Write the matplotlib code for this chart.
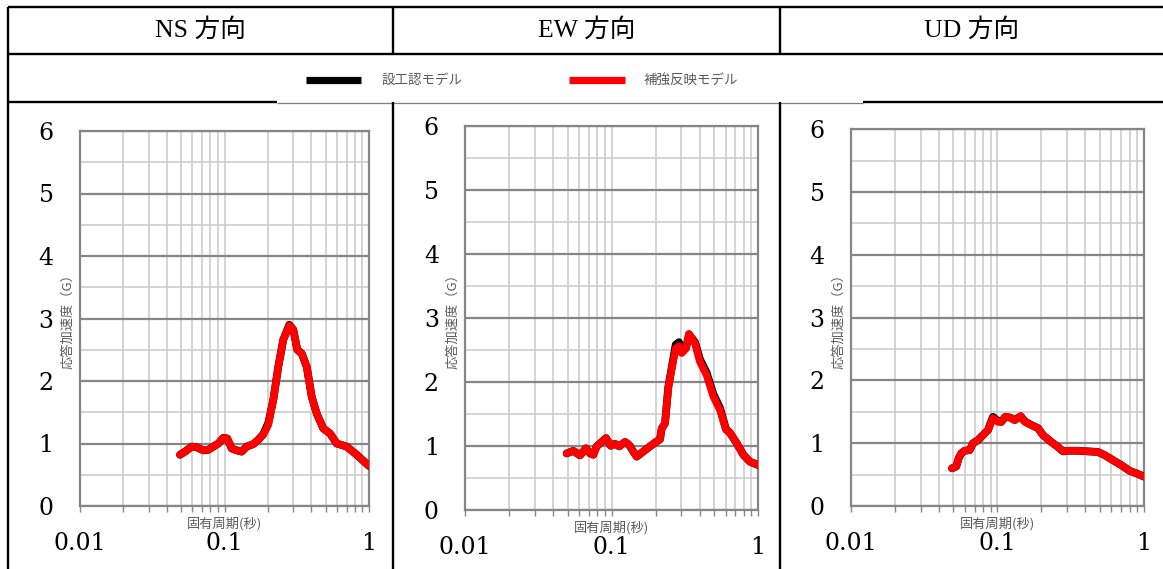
import matplotlib
matplotlib.use("Agg")
import matplotlib.pyplot as plt
from matplotlib.lines import Line2D
from matplotlib.ticker import LogLocator, MultipleLocator, NullFormatter, FixedLocator, FixedFormatter

# ---- response spectra: natural period (s) vs response acceleration (G) ----
ns_period = [0.0492, 0.0533, 0.0593, 0.0642, 0.0714, 0.0773, 0.0837, 0.0906, 0.0981,
             0.1045, 0.1122, 0.1215, 0.1315, 0.1424, 0.1582, 0.1714, 0.1856, 0.2010,
             0.2177, 0.2357, 0.2552, 0.2808, 0.2993, 0.3190, 0.3422, 0.3706, 0.4013,
             0.4345, 0.4828, 0.5373, 0.5977, 0.7010, 0.8223, 1.0]
ns_base = [0.82, 0.87, 0.95, 0.94, 0.89, 0.90, 0.95, 1.00, 1.09,
           1.08, 0.92, 0.89, 0.87, 0.95, 0.99, 1.06, 1.15, 1.33,
           1.70, 2.23, 2.66, 2.90, 2.82, 2.50, 2.44, 2.23, 1.75,
           1.48, 1.24, 1.16, 1.00, 0.95, 0.82, 0.64]
ns_reinforced = [0.82, 0.87, 0.95, 0.94, 0.89, 0.90, 0.95, 1.00, 1.09,
                 1.08, 0.92, 0.89, 0.87, 0.95, 0.99, 1.06, 1.14, 1.30,
                 1.70, 2.23, 2.66, 2.89, 2.82, 2.50, 2.44, 2.23, 1.75,
                 1.48, 1.24, 1.16, 1.00, 0.95, 0.82, 0.64]

ew_period = [0.0493, 0.0547, 0.0608, 0.0668, 0.0712, 0.0749, 0.0790, 0.0855, 0.0915,
             0.0985, 0.1054, 0.1128, 0.1234, 0.1320, 0.1405, 0.1483, 0.1645, 0.1828,
             0.2009, 0.2140, 0.2198, 0.2315, 0.2438, 0.2572, 0.2739, 0.2885, 0.3011,
             0.3221, 0.3377, 0.3711, 0.4015, 0.4462, 0.4950, 0.5500, 0.6044, 0.6437,
             0.7153, 0.7935, 0.8818, 1.0]
ew_base = [0.88, 0.92, 0.85, 0.96, 0.88, 0.86, 0.99, 1.06, 1.12,
           1.00, 1.03, 0.99, 1.06, 1.01, 0.91, 0.83, 0.91, 0.99,
           1.06, 1.10, 1.27, 1.35, 1.92, 2.22, 2.58, 2.62, 2.46,
           2.53, 2.74, 2.62, 2.35, 2.14, 1.81, 1.59, 1.26, 1.20,
           1.04, 0.86, 0.75, 0.70]
ew_reinforced = [0.88, 0.92, 0.85, 0.96, 0.88, 0.86, 0.99, 1.06, 1.12,
                 1.00, 1.03, 0.99, 1.06, 1.01, 0.91, 0.83, 0.91, 0.99,
                 1.06, 1.10, 1.27, 1.35, 1.90, 2.20, 2.52, 2.56, 2.45,
                 2.52, 2.75, 2.60, 2.31, 2.10, 1.77, 1.56, 1.25, 1.20,
                 1.04, 0.86, 0.75, 0.70]

ud_period = [0.0490, 0.0524, 0.0544, 0.0567, 0.0598, 0.0647, 0.0682, 0.0738, 0.0798,
             0.0863, 0.0909, 0.0934, 0.1010, 0.1064, 0.1133, 0.1215, 0.1314, 0.1444,
             0.1538, 0.1706, 0.1896, 0.2050, 0.2336, 0.2597, 0.2810, 0.3040, 0.3557,
             0.4164, 0.4872, 0.5416, 0.6167, 0.7031, 0.8020, 0.8901, 1.0]
ud_base = [0.60, 0.63, 0.76, 0.84, 0.88, 0.89, 1.00, 1.05, 1.13,
           1.21, 1.35, 1.42, 1.35, 1.34, 1.42, 1.41, 1.37, 1.43,
           1.35, 1.29, 1.24, 1.13, 1.02, 0.94, 0.87, 0.88, 0.88,
           0.87, 0.86, 0.81, 0.73, 0.65, 0.56, 0.52, 0.47]
ud_reinforced = [0.60, 0.63, 0.76, 0.84, 0.88, 0.89, 1.00, 1.05, 1.13,
                 1.21, 1.34, 1.40, 1.34, 1.34, 1.42, 1.41, 1.37, 1.43,
                 1.34, 1.29, 1.24, 1.13, 1.02, 0.94, 0.87, 0.88, 0.88,
                 0.87, 0.86, 0.81, 0.73, 0.65, 0.56, 0.52, 0.47]

directions = ["NS 方向", "EW 方向", "UD 方向"]
series_names = ["設工認モデル", "補強反映モデル"]
x_tick_values = [0.01, 0.1, 1]
x_tick_labels = ["0.01", "0.1", "1"]
y_tick_values = [0, 1, 2, 3, 4, 5, 6]
x_label = "固有周期(秒)"
y_label = "応答加速度（G）"

panels = [
    (ns_period, ns_base, ns_reinforced),
    (ew_period, ew_base, ew_reinforced),
    (ud_period, ud_base, ud_reinforced),
]

W, H = 1163, 569
fig = plt.figure(figsize=(W / 100, H / 100), dpi=100)
fig.patch.set_facecolor("white")

CJK = ["Noto Sans CJK JP", "DejaVu Sans"]
SERIF_NUM = "DejaVu Serif"
HEAD = ["Liberation Serif", "Noto Sans CJK JP"]
GRID_DARK = "#868686"
GRID_LIGHT = "#c9c9c9"
LABEL_GRAY = "#595959"


def px_line(x0, y0, x1, y1, color="black", lw=1.7):
    fig.add_artist(Line2D([x0 / W, x1 / W], [1 - y0 / H, 1 - y1 / H],
                          transform=fig.transFigure, color=color, lw=lw,
                          solid_capstyle="butt"))


# table frame
px_line(8, 7, W, 7)
px_line(8, 54, W, 54)
px_line(8, 102, 277, 102)
px_line(277, 103, 863, 103, color="#7f7f7f", lw=0.9)
px_line(863, 102, W, 102)
px_line(8, 7, 8, H)
for xd in (393, 780):
    px_line(xd, 7, xd, 54)
    px_line(xd, 102, xd, H)

# header cells
for cx, title in zip((200.5, 586.5, 971.5), directions):
    fig.text(cx / W, 1 - 30.5 / H, title, ha="center", va="center",
             fontsize=18.5, family=HEAD, color="black")

# legend row
for (x0, x1, tx), color, name in zip(((306, 361, 381), (569, 625, 644)),
                                      ("black", "#ff0000"), series_names):
    px_line(x0, 80, x1, 80, color=color, lw=5.2)
    fig.text(tx / W, 1 - 80 / H, name, ha="left", va="center",
             fontsize=9.7, family=CJK, color=LABEL_GRAY)

# axes boxes in pixels: left, top, right, bottom
boxes = [(80, 131, 369, 506), (465.3, 126, 758, 509.7), (851, 129.3, 1143.7, 506)]

for (l, t, r, b), (period, base, reinf) in zip(boxes, panels):
    ax = fig.add_axes([l / W, 1 - b / H, (r - l) / W, (b - t) / H])
    ax.set_xscale("log")
    ax.set_xlim(0.01, 1)
    ax.set_ylim(0, 6)
    ax.set_axisbelow(True)

    ax.xaxis.set_major_locator(FixedLocator(x_tick_values))
    ax.xaxis.set_major_formatter(FixedFormatter(x_tick_labels))
    ax.xaxis.set_minor_locator(LogLocator(base=10, subs=range(2, 10)))
    ax.xaxis.set_minor_formatter(NullFormatter())
    ax.yaxis.set_major_locator(FixedLocator(y_tick_values))
    ax.yaxis.set_minor_locator(MultipleLocator(0.5))

    ax.grid(which="major", axis="y", color=GRID_DARK, lw=1.6)
    ax.grid(which="minor", axis="y", color=GRID_LIGHT, lw=1.1)
    ax.grid(which="both", axis="x", color=GRID_LIGHT, lw=1.1)

    for side in ("left", "right", "top", "bottom"):
        ax.spines[side].set_color(GRID_DARK)
        ax.spines[side].set_linewidth(1.6)

    ax.tick_params(axis="y", which="both", length=0, pad=19, labelsize=17)
    ax.tick_params(axis="x", which="both", direction="out", length=4,
                   width=1, color=GRID_DARK, pad=15, labelsize=17)
    for lab in ax.get_xticklabels() + ax.get_yticklabels():
        lab.set_family(SERIF_NUM)

    ax.plot(period, base, color="black", lw=5.6,
            solid_capstyle="round", solid_joinstyle="round", zorder=3)
    ax.plot(period, reinf, color="#ff0000", lw=5.4,
            solid_capstyle="round", solid_joinstyle="round", zorder=4)

    ax.text(0.5, -18 / (b - t), x_label, transform=ax.transAxes,
            ha="center", va="center", fontsize=9.5, family=CJK, color=LABEL_GRAY)
    ax.text(-12 / (r - l), 0.5, y_label, transform=ax.transAxes, rotation=90,
            ha="center", va="center", fontsize=9.5, family=CJK, color=LABEL_GRAY)

fig.savefig("out.png", dpi=100, facecolor="white")
